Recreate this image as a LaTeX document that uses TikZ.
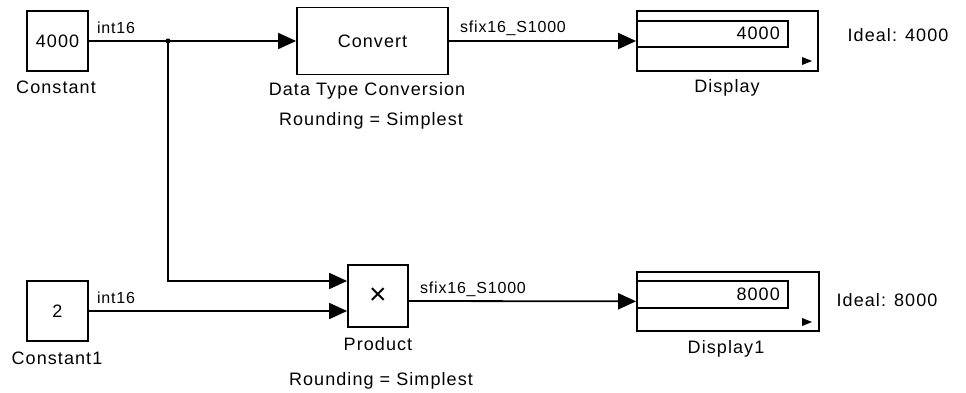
\documentclass[tikz,border=0pt]{standalone}
\usepackage{fontspec}
\newfontfamily\blockfont[LetterSpace=6]{Liberation Sans}
\newfontfamily\sigfont[LetterSpace=5]{Liberation Sans}
\usepackage{tikz}
\usetikzlibrary{positioning, arrows.meta}
\tikzset{
	blockbox/.style={
			rectangle,
			draw=black,
			line width=1.8pt,
			fill=white,
			inner sep=0pt,
			font=\fontsize{18}{20}\blockfont
		},
	displaybox/.style={
			blockbox,
			fill=none
		},
	blocktext/.style={
			inner sep=0pt,
			font=\fontsize{18}{20}\blockfont
		},
	signaltext/.style={
			inner sep=0pt,
			font=\fontsize{16}{18}\sigfont
		},
	signal/.style={
			line width=1.8pt,
			-{Triangle[length=18pt,width=16pt]}
		}
}

\begin{document}
\begin{tikzpicture}[x=1pt, y=-1pt]
\useasboundingbox (0,0) rectangle (966,393);

% upper path
\node[blockbox, minimum width=61, minimum height=60] (c1) at (57.5,41) {4000};
\node[blockbox, minimum width=151, minimum height=67] (cv) at (372.5,41) {Convert};
\node[displaybox, minimum width=181, minimum height=60] (d1) at (727.5,41) {};
\node[displaybox, minimum width=151, minimum height=26, anchor=west] (d1in) at (d1.west |- 0,34) {};
\node[blocktext, anchor=east] (d1val) at (780,33) {4000};
\fill (802,57) -- (812,61) -- (802,65) -- cycle;

\node[blocktext] (c1lab) at (56,87) {Constant};
\node[blocktext] (cvlab) at (367,91) {Data Type Conversion};
\node[blocktext] (cvrnd) at (371,121) {Rounding = Simplest};
\node[blocktext] (d1lab) at (727,88) {Display};
\node[blocktext] (d1ideal) at (898,35) {Ideal: 4000};

% lower path
\node[blockbox, minimum width=61, minimum height=60] (c2) at (57.5,311) {2};
\node[blockbox, minimum width=60, minimum height=62, font=\fontsize{30}{30}\blockfont] (pr) at (378,296) {×};
\node[displaybox, minimum width=182, minimum height=59] (d2) at (728,301.5) {};
\node[displaybox, minimum width=151, minimum height=27, anchor=west] (d2in) at (d2.west |- 0,294.5) {};
\node[blocktext, anchor=east] (d2val) at (780,294) {8000};
\fill (802,318) -- (812,322) -- (802,326) -- cycle;

\node[blocktext] (c2lab) at (57,358) {Constant1};
\node[blocktext] (prlab) at (378,344) {Product};
\node[blocktext] (prrnd) at (381,381) {Rounding = Simplest};
\node[blocktext] (d2lab) at (726,349) {Display1};
\node[blocktext] (d2ideal) at (887,300) {Ideal: 8000};

% signals
\coordinate (j) at (168,41);
\coordinate (p1) at (pr.west |- 0,281);
\coordinate (p2) at (pr.west |- 0,311);
\coordinate (po) at (pr.east |- 0,301);

\draw[signal] (c1) -- (cv);
\fill (j) circle (2.6);
\draw[signal] (j) |- (p1);
\draw[signal] (c2) -- (p2);
\draw[signal] (cv) -- (d1);
\draw[signal] (po) -- (d2);

\node[signaltext] (s1) at (116,28) {int16};
\node[signaltext] (s2) at (116,298) {int16};
\node[signaltext] (s3) at (513,28) {sfix16\_S1000};
\node[signaltext] (s4) at (473,289) {sfix16\_S1000};
\end{tikzpicture}
\end{document}
